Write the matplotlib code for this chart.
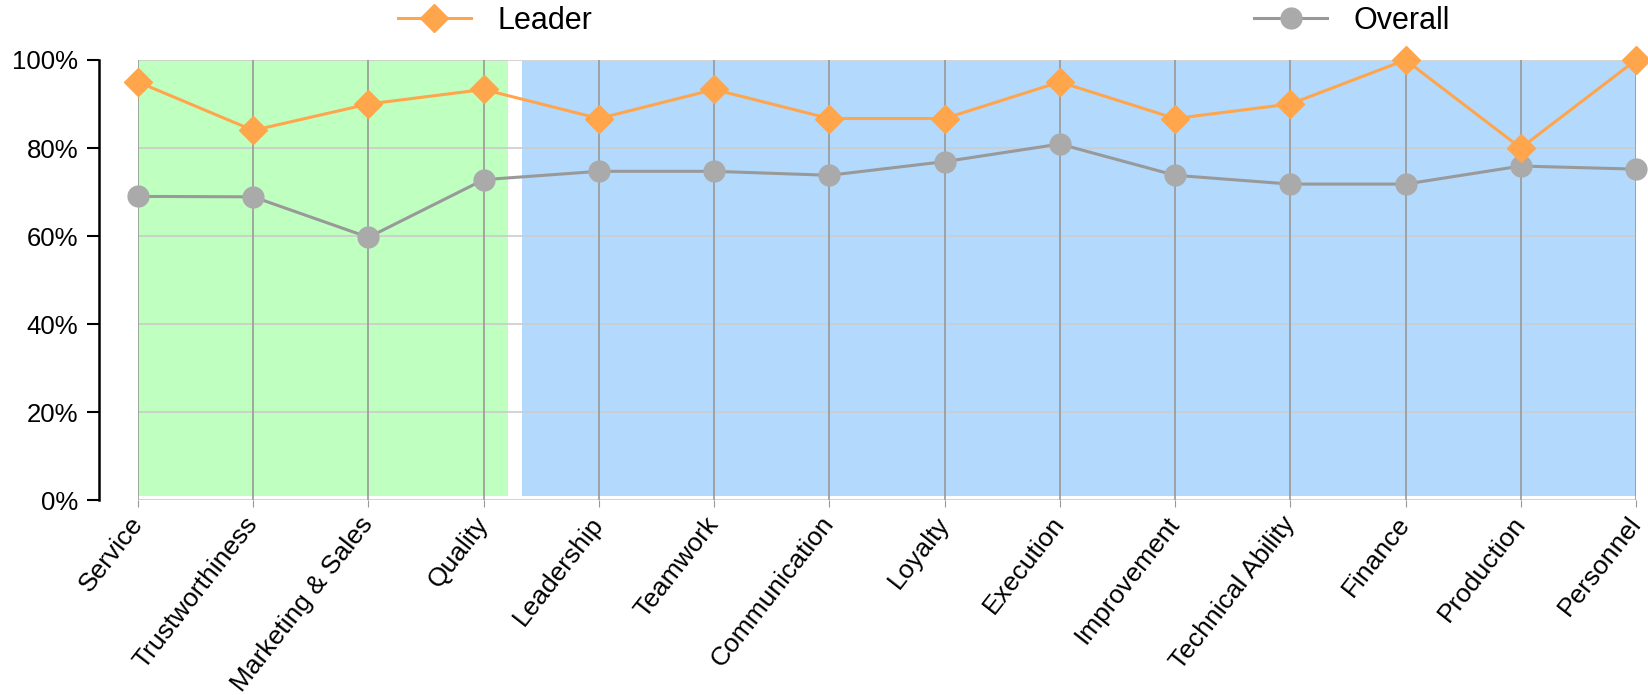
import matplotlib
matplotlib.use('Agg')
import matplotlib.pyplot as plt
import numpy as np

categories = ["Service", "Trustworthiness", "Marketing & Sales", "Quality", "Leadership",
              "Teamwork", "Communication", "Loyalty", "Execution", "Improvement",
              "Technical Ability", "Finance", "Production", "Personnel"]
leader = [95.0, 84.0, 90.0, 93.3, 86.7, 93.3, 86.7, 86.7, 95.0, 86.7, 90.0, 100.0, 80.0, 100.0]
overall = [69.0, 68.9, 59.7, 72.8, 74.7, 74.7, 73.8, 76.9, 80.9, 73.8, 71.8, 71.8, 75.9, 75.2]
y_ticks = [0, 20, 40, 60, 80, 100]
y_labels = ["0%", "20%", "40%", "60%", "80%", "100%"]

plt.rcParams['font.family'] = ['Liberation Sans', 'DejaVu Sans']

fig = plt.figure(figsize=(16.48, 6.95), dpi=100)
ax = fig.add_axes([138 / 1648, 1 - 500 / 695, 1498 / 1648, 440 / 695])

x = np.arange(len(categories))

# background bands
ax.axvspan(0, 3.21, ymin=0.009, ymax=1.0, color='#bfffbf', lw=0, zorder=0)
ax.axvspan(3.33, 13, ymin=0.009, ymax=0.997, color='#b3d9fd', lw=0, zorder=0)

# grid
for yv in y_ticks:
    ax.axhline(yv, color='#cccccc', lw=1.2, zorder=1)
for xv in x:
    ax.axvline(xv, color='#999999', lw=1.2, zorder=1)

ax.plot(x, leader, color='#ffa64d', lw=2.2, marker='D', markersize=14,
        label='Leader', zorder=4, clip_on=False)
ax.plot(x, overall, color='#999999', lw=2.2, marker='o', markersize=15,
        markerfacecolor='#aaaaaa', markeredgecolor='#aaaaaa',
        label='Overall', zorder=3, clip_on=False)

ax.set_xlim(0, 13)
ax.set_ylim(0, 100)
ax.set_yticks(y_ticks)
ax.set_yticklabels(y_labels)
ax.set_xticks(x)
ax.set_xticklabels(categories, rotation=52, ha='right', va='center',
                   rotation_mode='anchor')
ax.tick_params(axis='x', length=5, color='#999999', pad=9, labelsize=19)
ax.tick_params(axis='y', length=8.6, width=1.5, pad=6.5, labelsize=18.5)

for s in ['top', 'right', 'bottom']:
    ax.spines[s].set_visible(False)
ax.spines['left'].set_position(('outward', 28))  # points, ~39 px
ax.spines['left'].set_linewidth(1.8)

h, l = ax.get_legend_handles_labels()
fig.legend([h[0]], [l[0]], loc='center', bbox_to_anchor=(495 / 1648, 1 - 21 / 695),
           frameon=False, fontsize=22, handlelength=2.4, handletextpad=0.86)
fig.legend([h[1]], [l[1]], loc='center', bbox_to_anchor=(1352 / 1648, 1 - 21 / 695),
           frameon=False, fontsize=22, handlelength=2.4, handletextpad=0.86)

fig.savefig('out.png', dpi=100)
